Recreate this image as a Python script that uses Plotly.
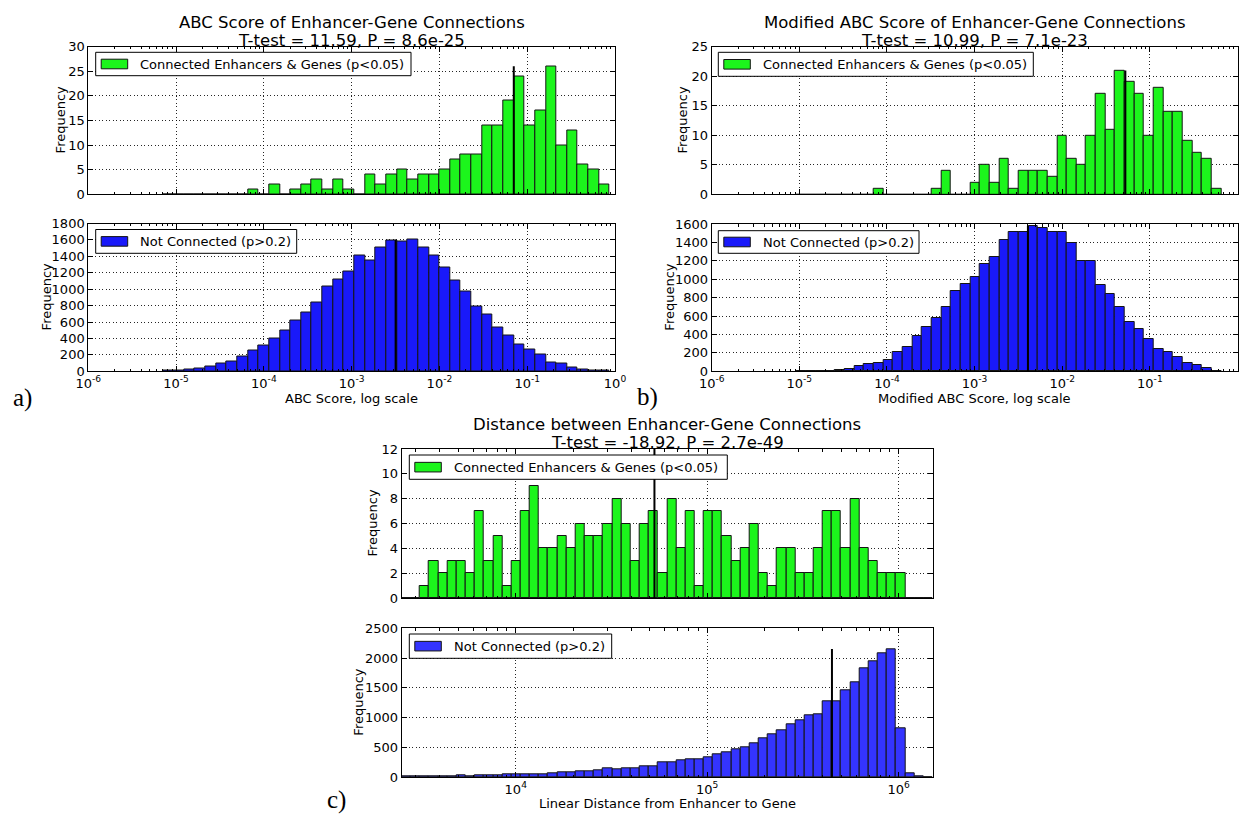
import math
import plotly.graph_objects as go

# The page body has an 8px margin; the figure is sized to fill the rest of the window
W, H = 1247, 816
OFF = 8
FW, FH = W - OFF, H - OFF

# ---------------- data ----------------
# Panel a: ABC score (log10 bin edges = a_edge0 + k * a_binw)
a_edge0, a_binw = -5.151, 0.1212
a_connected = [0, 0, 0, 0, 0, 0, 0, 0,
               1, 0, 2, 0, 1, 2, 3, 1, 3, 1,
               0, 4, 2, 4, 5, 3, 4, 4,
               5, 7, 8, 8, 14, 14, 19, 24, 14, 17, 26, 10, 13, 6, 5, 2]
a_not_connected = [15, 10, 25, 30, 55, 90, 115, 185, 255, 320, 395, 500, 620, 715, 840, 1035, 1120, 1215,
                   1415, 1354, 1512, 1589, 1585, 1601, 1512, 1411, 1265, 1107, 973, 786, 697, 539,
                   430, 328, 268, 199, 105, 89, 45, 28, 12, 8]
a_means = [0.0703, 0.00317]
a_mean_heights = [26, 1601]

# Panel b: modified ABC score
b_edge0, b_binw = -5.0326, 0.1102
b_connected = [0, 0, 0, 0, 0, 0, 0, 0,
               1, 0, 0, 0, 0, 0,
               1, 4, 0, 0,
               2, 5, 2, 6, 1, 4, 4, 4, 3, 10, 6, 5, 10, 17, 11, 21, 19, 17, 10, 18, 14, 14, 9, 7, 6, 1]
b_not_connected = [2, 3, 4, 5, 10, 20, 58, 76, 90, 123, 206, 268, 380, 478, 576, 695, 872, 950,
                   1021, 1166, 1245, 1423, 1517, 1510, 1578, 1553, 1517, 1510, 1397, 1198, 1198, 934,
                   836, 695, 536, 456, 348, 243, 206, 152, 87, 72, 36, 7]
b_means = [0.0525, 0.00406]
b_mean_heights = [21, 1578]

# Panel c: distance (log10 bin edges = c_edge0 + k * c_binw)
c_edge0, c_binw = 3.4044, 0.04781
c_connected = [0, 0,
               1, 3, 2, 3, 3, 2, 7, 3, 5, 1, 3, 7, 9, 4, 4, 5, 4, 6, 5, 5, 6, 8, 6, 3, 6, 7,
               2, 8, 4, 7, 1, 7, 7, 5, 3, 4, 6, 2, 1, 4, 4, 2, 2, 4, 7, 7, 4, 8, 4, 3, 2, 2, 2,
               0, 0, 0]
c_not_connected = [8, 10, 8, 12, 10, 10, 25, 12, 28, 28, 28, 45, 42, 45, 52, 52, 55, 73, 73, 95,
                   100, 105, 140, 130, 140, 140, 180, 185, 240,
                   241, 286, 303, 297, 336, 387, 415, 460, 499, 572, 650, 723, 785, 880, 958,
                   1043, 1054, 1267, 1267, 1457, 1592, 1833, 1951, 2085, 2152, 813, 56, 11, 3]
c_means = [53000, 448000]
c_mean_heights = [12, 2152]

titles = [
    ("ABC Score of Enhancer-Gene Connections", "T-test = 11.59, P = 8.6e-25"),
    ("Modified ABC Score of Enhancer-Gene Connections", "T-test = 10.99, P = 7.1e-23"),
    ("Distance between Enhancer-Gene Connections", "T-test = -18.92, P = 2.7e-49"),
]
xlabels = ["ABC Score, log scale", "Modified ABC Score, log scale",
           "Linear Distance from Enhancer to Gene"]
legend_labels = ["Connected Enhancers & Genes (p<0.05)", "Not Connected (p>0.2)"]
panel_tags = ["a)", "b)", "c)"]

GREEN = "rgb(28,245,28)"
BLUE = "rgb(25,25,250)"
BLUE_C = "rgb(52,52,255)"
FONT = "DejaVu Sans"

# ---------------- layout geometry (window pixels) ----------------
panels = [
    dict(x=(88.3, 615), y=(46.5, 194.3), e0=a_edge0, w=a_binw, c=a_connected, col=GREEN,
         xr=(-6, 0), yr=(0, 30), dt=5, m=a_means[0], mh=a_mean_heights[0], lab=False,
         box=(95.7, 411, 52.3, 75.7), leg=legend_labels[0], ylab_x=60),
    dict(x=(88.3, 615), y=(223.5, 371.3), e0=a_edge0, w=a_binw, c=a_not_connected, col=BLUE,
         xr=(-6, 0), yr=(0, 1800), dt=200, m=a_means[1], mh=a_mean_heights[1], lab=True,
         box=(95.7, 296.7, 229.5, 253.3), leg=legend_labels[1], ylab_x=46),
    dict(x=(711.7, 1237.5), y=(46.8, 194.3), e0=b_edge0, w=b_binw, c=b_connected, col=GREEN,
         xr=(-6, 0), yr=(0, 25), dt=5, m=b_means[0], mh=b_mean_heights[0], lab=False,
         box=(718.3, 1033.3, 52.3, 76.3), leg=legend_labels[0], ylab_x=683),
    dict(x=(711.7, 1237.5), y=(224, 371.3), e0=b_edge0, w=b_binw, c=b_not_connected, col=BLUE,
         xr=(-6, 0), yr=(0, 1600), dt=200, m=b_means[1], mh=b_mean_heights[1], lab=True,
         box=(718.3, 919, 230.7, 253.3), leg=legend_labels[1], ylab_x=670),
    dict(x=(401.7, 932.7), y=(449, 598), e0=c_edge0, w=c_binw, c=c_connected, col=GREEN,
         xr=(c_edge0, c_edge0 + 58 * c_binw), yr=(0, 12), dt=2, m=c_means[0], mh=c_mean_heights[0],
         lab=False, box=(409.3, 727.3, 455, 479.3), leg=legend_labels[0], ylab_x=372),
    dict(x=(401.7, 932.7), y=(628.3, 777), e0=c_edge0, w=c_binw, c=c_not_connected, col=BLUE_C,
         xr=(c_edge0, c_edge0 + 58 * c_binw), yr=(0, 2500), dt=500, m=c_means[1], mh=c_mean_heights[1],
         lab=True, box=(409.3, 611.7, 634, 658.3), leg=legend_labels[1], ylab_x=359),
]


def fx(p):
    return (p - OFF) / FW


def fy(p):
    return 1 - (p - OFF) / FH


def text_ann(text, x, y, size, family=FONT, angle=0, xanchor="center"):
    return dict(text=text, x=fx(x), y=fy(y), xref="paper", yref="paper", showarrow=False,
                xanchor=xanchor, yanchor="middle", textangle=angle,
                font=dict(family=family, size=size, color="black"))


fig = go.Figure()
shapes, annotations = [], []
layout_axes = {}

for i, p in enumerate(panels, start=1):
    xa = "x" if i == 1 else f"x{i}"
    ya = "y" if i == 1 else f"y{i}"
    n = len(p["c"])
    centers = [p["e0"] + (k + 0.5) * p["w"] for k in range(n)]
    fig.add_trace(go.Bar(x=centers, y=p["c"], width=p["w"], xaxis=xa, yaxis=ya,
                         marker=dict(color=p["col"], line=dict(color="rgb(20,20,20)", width=1)),
                         showlegend=False, hoverinfo="x+y"))
    mlog = math.log10(p["m"])
    fig.add_trace(go.Scatter(x=[mlog, mlog], y=[0, p["mh"]], mode="lines", xaxis=xa, yaxis=ya,
                             line=dict(color="black", width=2), showlegend=False))

    lo, hi = p["xr"]
    majors = [k for k in range(math.ceil(lo - 1e-9), math.floor(hi + 1e-9) + 1)]
    minors = []
    for k in range(math.floor(lo) - 1, math.ceil(hi) + 1):
        for mm in range(2, 10):
            v = k + math.log10(mm)
            if lo < v < hi:
                minors.append(v)
    common = dict(showline=True, linecolor="black", linewidth=1, mirror="allticks",
                  ticks="inside", ticklen=5, tickcolor="black", tickwidth=1,
                  showgrid=True, gridcolor="rgba(0,0,0,0.85)", griddash="1px,2.5px", gridwidth=1,
                  zeroline=False, automargin=False,
                  tickfont=dict(family=FONT, size=13, color="black"))
    xname = "xaxis" if i == 1 else f"xaxis{i}"
    yname = "yaxis" if i == 1 else f"yaxis{i}"
    layout_axes[xname] = dict(
        common, domain=[fx(p["x"][0]), fx(p["x"][1])], range=[lo, hi], anchor=ya,
        tickmode="array", tickvals=majors,
        ticktext=[f"10<sup>{k}</sup>" for k in majors], showticklabels=p["lab"],
        minor=dict(tickmode="array", tickvals=minors, ticks="inside", ticklen=2.5,
                   tickcolor="black", showgrid=False))
    layout_axes[yname] = dict(
        common, domain=[fy(p["y"][1]), fy(p["y"][0])], range=list(p["yr"]), anchor=xa,
        tickmode="linear", tick0=0, dtick=p["dt"])

    annotations.append(text_ann("Frequency", p["ylab_x"], (p["y"][0] + p["y"][1]) / 2, 13, angle=-90))
    bx0, bx1, by0, by1 = p["box"]
    shapes.append(dict(type="rect", xref="paper", yref="paper", x0=fx(bx0), x1=fx(bx1),
                       y0=fy(by1), y1=fy(by0), fillcolor="white",
                       line=dict(color="black", width=1), layer="above"))
    pcy = (by0 + by1) / 2
    shapes.append(dict(type="rect", xref="paper", yref="paper", x0=fx(bx0 + 5.5), x1=fx(bx0 + 32),
                       y0=fy(pcy + 4.8), y1=fy(pcy - 4.8), fillcolor=p["col"],
                       line=dict(color="rgb(20,20,20)", width=1), layer="above"))
    annotations.append(text_ann(p["leg"], bx0 + 42.5, pcy, 13, xanchor="left"))

title_pos = [(351.5, 22, 40), (974.5, 22, 40), (667, 424, 442)]
xlab_pos = [(351.5, 398), (974.5, 398), (667, 803)]
tag_pos = [(22, 398), (648, 397), (336, 800)]
for t, (cx, y1, y2) in zip(titles, title_pos):
    annotations.append(text_ann(t[0], cx, y1, 16.5))
    annotations.append(text_ann(t[1], cx, y2, 16.5))
for t, (cx, cy) in zip(xlabels, xlab_pos):
    annotations.append(text_ann(t, cx, cy, 13))
for t, (cx, cy) in zip(panel_tags, tag_pos):
    annotations.append(text_ann(t, cx, cy, 25, family="Liberation Serif"))

fig.update_layout(width=FW, height=FH, margin=dict(l=0, r=0, t=0, b=0, autoexpand=False),
                  paper_bgcolor="white", plot_bgcolor="white", bargap=0,
                  shapes=shapes, annotations=annotations, **layout_axes)

fig.write_html("out.html")
